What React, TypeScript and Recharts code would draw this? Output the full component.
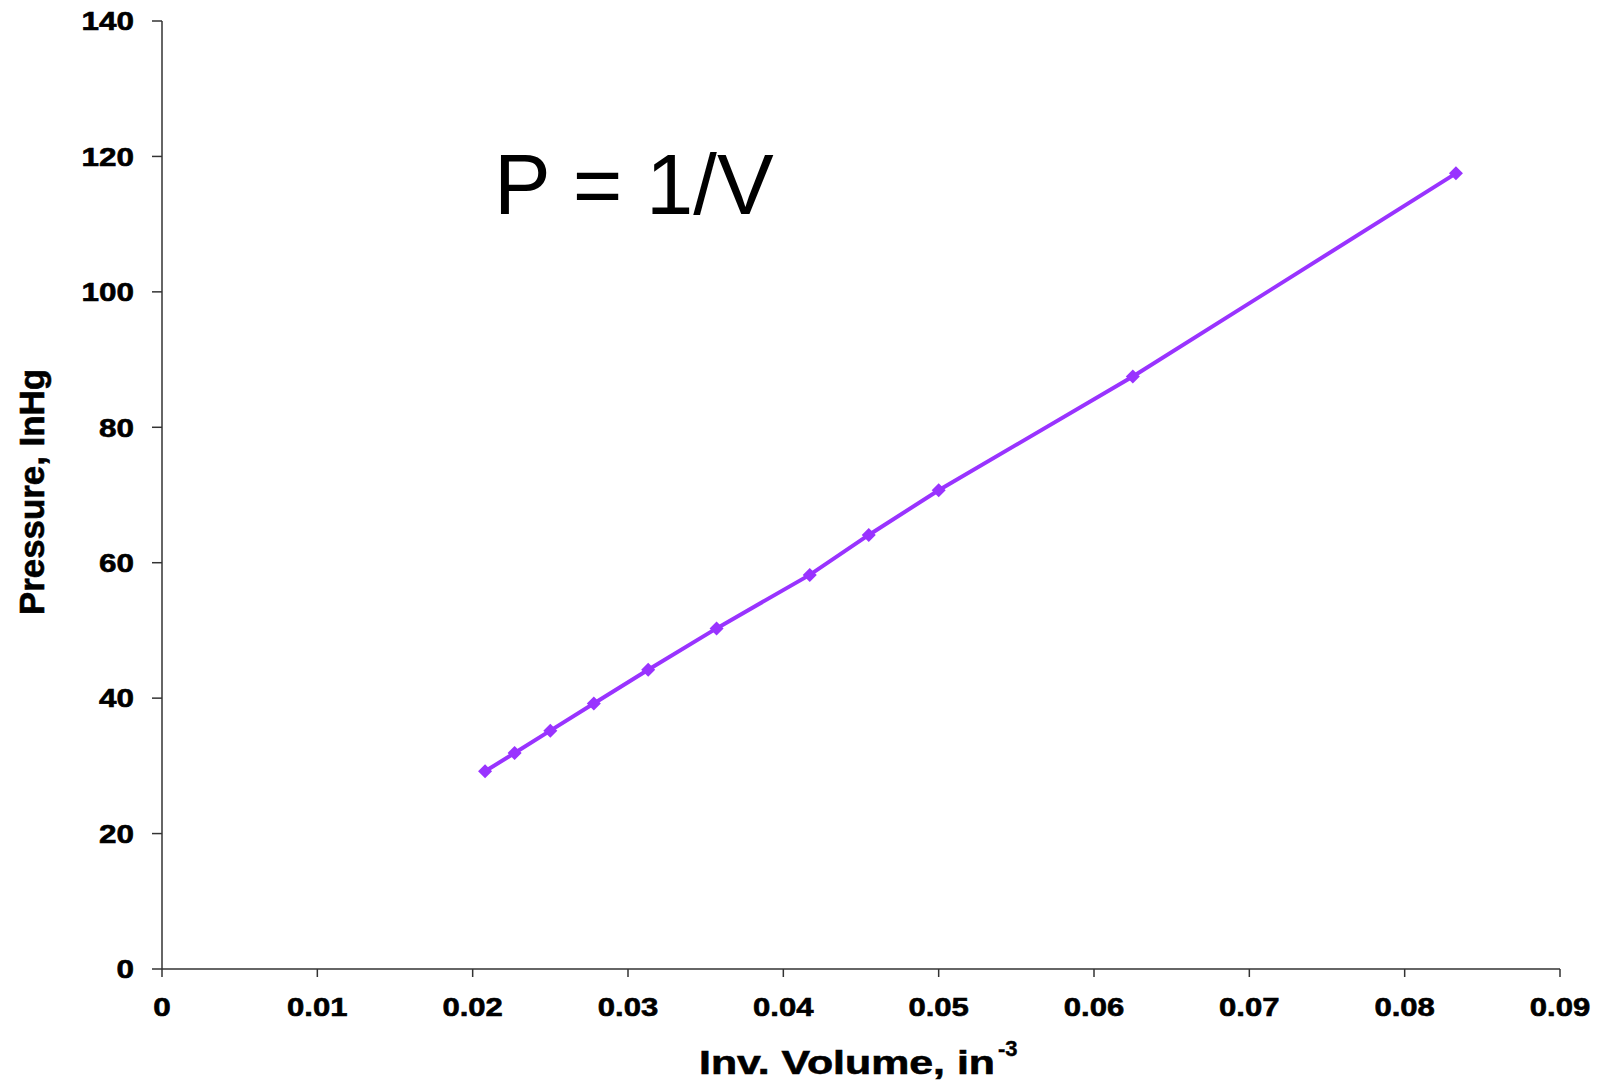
import { LineChart, Line, XAxis, YAxis } from "recharts";

// Boyle-style data
const invVolume = [0.0208, 0.0227, 0.025, 0.0278, 0.0313, 0.0357, 0.0417, 0.0455, 0.05, 0.0625, 0.0833];
const pressure = [29.2, 31.9, 35.2, 39.2, 44.2, 50.3, 58.2, 64.1, 70.7, 87.5, 117.5];

const xTicks = [0, 0.01, 0.02, 0.03, 0.04, 0.05, 0.06, 0.07, 0.08, 0.09];
const yTicks = [0, 20, 40, 60, 80, 100, 120, 140];

const data = invVolume.map((x, i) => ({ x, p: pressure[i] }));

const PURPLE = "#9933ff";
const AXIS = "#333";
const FONT = "'Liberation Sans', Arial, sans-serif";

const charWidth = (s: string) =>
  s.split("").reduce((w, c) => w + (c === "." ? 8 : 17.5), 0);

const YTick = ({ x, y, payload }: any) => (
  <text x={x} y={y} dy="0.355em" textAnchor="end" fill="#000"
    fontFamily={FONT} fontWeight={700} fontSize={26} stroke="#000" strokeWidth={0.6}
    textLength={charWidth(String(payload.value))} lengthAdjust="spacingAndGlyphs">
    {payload.value}
  </text>
);

const XTick = ({ x, y, payload }: any) => (
  <text x={x} y={y} dy="0.71em" textAnchor="middle" fill="#000"
    fontFamily={FONT} fontWeight={700} fontSize={26} stroke="#000" strokeWidth={0.6}
    textLength={charWidth(String(payload.value))} lengthAdjust="spacingAndGlyphs">
    {payload.value}
  </text>
);

const Diamond = ({ cx, cy }: any) => {
  if (cx == null || cy == null) return null;
  const r = 7;
  return (
    <polygon
      points={`${cx},${cy - r} ${cx + r},${cy} ${cx},${cy + r} ${cx - r},${cy}`}
      fill={PURPLE}
    />
  );
};

export default function App() {
  return (
    <div style={{ position: "absolute", left: 0, top: 0, width: 1610, height: 1085, background: "#fff" }}>
      <LineChart
        width={1610}
        height={1085}
        data={data}
        margin={{ top: 21, right: 50, left: 0, bottom: 0 }}
      >
        <XAxis
          type="number"
          dataKey="x"
          domain={[0, 0.09]}
          ticks={xTicks}
          interval={0}
          height={116}
          tickSize={8}
          tickMargin={21}
          tick={<XTick />}
          axisLine={{ stroke: AXIS, strokeWidth: 1.5 }}
          tickLine={{ stroke: AXIS, strokeWidth: 1.5 }}
        />
        <YAxis
          type="number"
          domain={[0, 140]}
          ticks={yTicks}
          interval={0}
          width={162}
          tickSize={10}
          tickMargin={18}
          tick={<YTick />}
          axisLine={{ stroke: AXIS, strokeWidth: 1.5 }}
          tickLine={{ stroke: AXIS, strokeWidth: 1.5 }}
        />
        <Line
          type="linear"
          dataKey="p"
          stroke={PURPLE}
          strokeWidth={4}
          dot={<Diamond />}
          activeDot={false}
          isAnimationActive={false}
        />
      </LineChart>

      {/* titles and annotation */}
      <svg width={1610} height={1085} style={{ position: "absolute", left: 0, top: 0, pointerEvents: "none" }}>
        <text x={494} y={214} fontFamily={FONT} fontSize={85} fill="#000">P = 1/V</text>
        <text x={699} y={1074} fontFamily={FONT} fontWeight={700} fontSize={33} fill="#000"
          stroke="#000" strokeWidth={0.6}
          textLength={296} lengthAdjust="spacingAndGlyphs">
          Inv. Volume, in
        </text>
        <text x={998} y={1056} fontFamily={FONT} fontWeight={700} fontSize={22} fill="#000"
          stroke="#000" strokeWidth={0.4}>-3</text>
        <text
          x={0} y={0}
          transform="translate(44 492) rotate(-90)"
          textAnchor="middle"
          fontFamily={FONT} fontWeight={700} fontSize={35} fill="#000"
          stroke="#000" strokeWidth={0.6}
          textLength={246} lengthAdjust="spacingAndGlyphs"
        >
          Pressure, InHg
        </text>
      </svg>
    </div>
  );
}
